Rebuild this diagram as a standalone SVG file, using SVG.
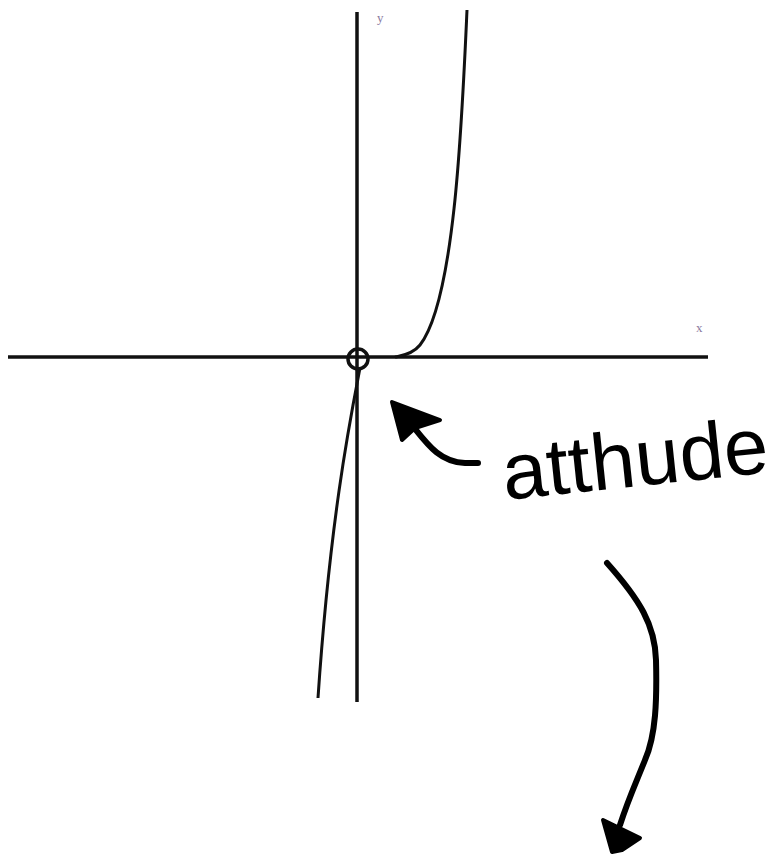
<svg xmlns="http://www.w3.org/2000/svg" width="774" height="858" viewBox="0 0 774 858">
<style>
.ax{stroke:#111;stroke-width:3.5;fill:none}
.cv{stroke:#111;stroke-width:3;fill:none}
.hand{stroke:#000;stroke-width:6;fill:none;stroke-linecap:round;stroke-linejoin:round}
.lbl{font-family:"Liberation Serif",serif;font-size:13px;fill:#8a7aa0}
.word{font-family:"Liberation Sans",sans-serif;font-size:80px;fill:#000}
</style>
<rect width="774" height="858" fill="#fff"/>
<g id="axes">
<line class="ax" x1="8" y1="357" x2="708" y2="357"/>
<line class="ax" x1="357" y1="12" x2="357" y2="702"/>
<circle class="ax" cx="358" cy="359" r="10" stroke-width="3"/>
</g>
<g id="curve">
<path class="cv" d="M467,10 C462,120 455,300 420,345 C412,355 400,356 395,357"/>
<path class="cv" d="M360,368 C350,420 330,520 318,698"/>
</g>
<g id="labels">
<text class="lbl" x="377" y="22">y</text>
<text class="lbl" x="696" y="332">x</text>
</g>
<g id="connectors">
<path class="hand" d="M412,425 C428,445 440,462 465,463 L478,463"/>
<path d="M392,402 L440,420 L415,428 L402,440 Z" fill="#000" stroke="#000" stroke-width="4" stroke-linejoin="round"/>
<path class="hand" d="M607,563 C640,600 655,625 656,660 C657,700 656,735 645,760 C635,785 628,800 620,825"/>
<path d="M603,820 L640,838 L622,850 L612,852 Z" fill="#000" stroke="#000" stroke-width="4" stroke-linejoin="round"/>
</g>
<g id="note">
<text class="word" x="505" y="500" transform="rotate(-6 505 500)">atthude</text>
</g>
</svg>
